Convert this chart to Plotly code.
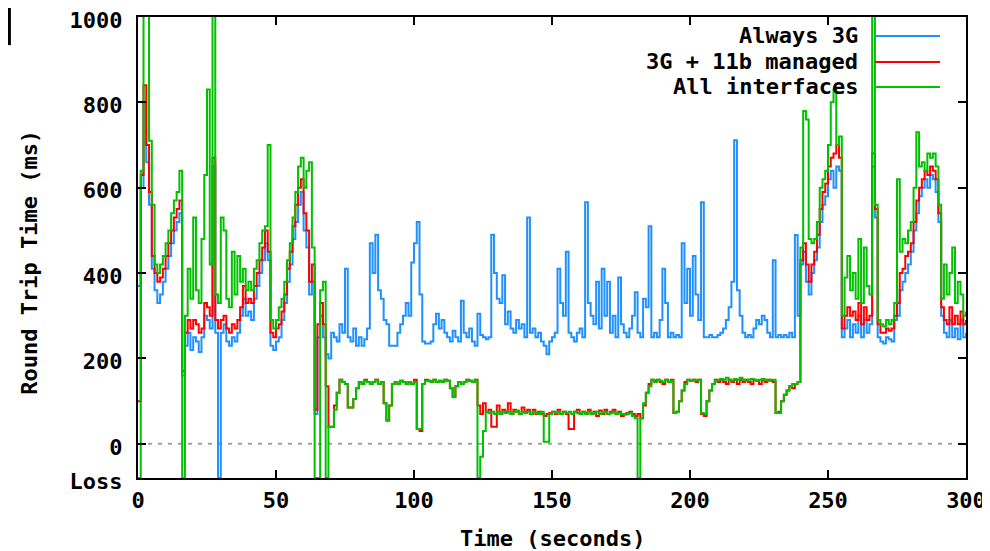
import plotly.graph_objects as go

LOSS = -80

T = list(range(301))

B = [
    370, 600, 800, 660, 560, 410, 360, 330, 350, 380,
    410, 440, 470, 500, 520, 540, 160, 230, 260, 220,
    250, 240, 215, 250, 300, 290, 270, 650, 260, LOSS,
    260, 280, 240, 230, 250, 240, 260, 300, 340, 300,
    310, 290, 340, 370, 400, 430, 470, 430, 230, 220,
    240, 250, 290, 330, 380, 420, 480, 520, 560, 590,
    500, 460, 350, 380, 70, 250, 300, 250, 210, 200,
    260, 250, 240, 280, 260, 410, 250, 240, 270, 230,
    250, 230, 245, 270, 470, 400, 490, 360, 340, 290,
    280, 230, 230, 230, 260, 280, 300, 330, 300, 425,
    470, 520, 350, 240, 235, 235, 240, 280, 305, 270,
    290, 260, 250, 240, 265, 250, 240, 335, 260, 250,
    270, 240, 230, 305, 255, 250, 245, 250, 490, 400,
    340, 330, 395, 280, 310, 270, 260, 290, 270, 280,
    250, 530, 260, 270, 250, 260, 240, 230, 210, 240,
    250, 260, 410, 330, 300, 450, 260, 250, 240, 260,
    270, 250, 566, 330, 300, 280, 380, 270, 410, 300,
    380, 260, 300, 250, 390, 280, 260, 250, 270, 300,
    355, 260, 250, 340, 320, 510, 250, 260, 250, 290,
    410, 330, 250, 260, 250, 255, 250, 470, 330, 410,
    300, 440, 350, 290, 566, 250, 250, 255, 250, 250,
    255, 260, 270, 290, 320, 380, 711, 360, 300, 260,
    250, 255, 250, 270, 290, 280, 300, 290, 260, 250,
    430, 250, 255, 250, 255, 250, 260, 250, 489, 300,
    420, 450, 380, 350, 400, 430, 460, 520, 560, 580,
    620, 640, 600, 650, 640, 250, 270, 290, 250, 280,
    260, 300, 250, 290, 260, 280, 650, 530, 250, 240,
    235, 250, 245, 240, 290, 300, 360, 380, 400, 420,
    450, 500, 540, 580, 600, 620, 600, 630, 620, 590,
    520, 300, 260, 250, 290, 250, 270, 245, 290, 250,
    260,
]

R = [
    100, 630, 840, 700, 590, 440, 400, 380, 390, 410,
    440, 470, 500, 530, 550, 570, 170, 260, 290, 270,
    290, 280, 260, 270, 330, 320, 300, 670, 290, 270,
    290, 300, 270, 260, 280, 270, 290, 320, 370, 330,
    340, 330, 370, 400, 430, 460, 500, 450, 260, 250,
    270, 280, 310, 350, 410, 450, 510, 560, 600, 620,
    540, 500, 380, 420, 80, 280, 330, 280, 135, 40,
    40, 90, 120, 150, 145, 140, 85, 85, 105, 130,
    145, 140, 150, 145, 140, 145, 150, 140, 145, 95,
    55, 90, 140, 145, 140, 148, 145, 140, 145, 140,
    150, 35, 30, 140, 150, 148, 145, 150, 145, 148,
    145, 150, 148, 130, 110, 135, 145, 140, 145, 150,
    148, 145, 150, 90, 70, 95, 75, 80, 40, 40,
    90, 70, 80, 75, 95, 70, 80, 75, 70, 85,
    75, 80, 70, 80, 70, 75, 70, 65, 70, 72,
    75, 70, 80, 70, 75, 70, 35, 35, 75, 80,
    70, 75, 72, 80, 70, 75, 65, 78, 70, 80,
    70, 75, 80, 70, 75, 65, 70, 72, 75, 70,
    65, 70, 60, 90, 120, 140, 150, 148, 150, 145,
    140, 150, 145, 150, 72, 75, 100, 125, 145, 150,
    148, 150, 145, 150, 70, 65, 100, 125, 140, 150,
    145, 150, 145, 140, 150, 145, 150, 140, 150, 145,
    150, 145, 140, 150, 148, 140, 150, 145, 150, 148,
    145, 72, 75, 100, 115, 125, 135, 130, 140, 145,
    430, 470, 420, 380, 420, 450, 490, 550, 590, 610,
    650, 670, 680, 700, 670, 270, 300, 320, 300, 310,
    290, 330, 280, 320, 290, 300, 680, 550, 280, 260,
    260, 270, 265, 270, 300, 330, 400, 410, 440, 450,
    470, 520, 570, 600, 620, 640, 630, 650, 640, 620,
    540, 320, 290, 280, 320, 280, 300, 280, 310, 280,
    290,
]

G = [
    LOSS, 640, 1050, 1050, 710, 560, 420, 400, 420, 440,
    470, 500, 540, 570, 590, 640, LOSS, 300, 410, 340,
    530, 360, 330, 480, 630, 830, 420, 1050, 350, 330,
    530, 500, 340, 320, 450, 350, 440, 380, 410, 360,
    380, 360, 410, 430, 470, 500, 510, 700, 290, 270,
    290, 320, 340, 380, 430, 470, 530, 590, 650, 670,
    600, 640, 660, 460, LOSS, LOSS, 360, 380, LOSS, 40,
    40, 80, 120, 150, 145, 140, 85, 85, 105, 130,
    145, 140, 148, 145, 140, 145, 150, 140, 145, 95,
    55, 90, 140, 145, 140, 148, 145, 140, 145, 140,
    145, 35, 35, 140, 148, 148, 145, 150, 145, 148,
    145, 150, 148, 130, 110, 135, 145, 140, 145, 150,
    148, 145, 150, LOSS, -30, 30, 75, 72, 75, 70,
    75, 70, 75, 72, 75, 70, 75, 78, 70, 75,
    72, 75, 70, 75, 72, 70, 75, 5, 5, 70,
    75, 72, 75, 70, 75, 72, 75, 70, 75, 72,
    70, 75, 70, 75, 70, 72, 75, 70, 72, 75,
    70, 72, 75, 70, 72, 70, 68, 70, 72, 65,
    60, LOSS, 60, 95, 120, 135, 150, 145, 150, 148,
    145, 150, 145, 148, 72, 75, 100, 125, 140, 150,
    148, 150, 148, 150, 72, 70, 100, 125, 140, 148,
    150, 152, 150, 155, 150, 148, 152, 150, 155, 150,
    148, 150, 152, 150, 148, 150, 152, 150, 148, 150,
    150, 72, 72, 100, 115, 125, 135, 140, 140, 145,
    460, 780, 760, 480, 470, 480, 520, 600, 620, 640,
    700, 800, 830, 700, 720, 300, 390, 440, 360, 400,
    340, 480, 330, 460, 370, 350, 1050, 560, 290, 280,
    275, 290, 280, 290, 330, 620, 450, 480, 470, 500,
    520, 600, 730, 650, 660, 640, 680, 670, 680, 650,
    560, 340, 420, 350, 400, 460, 330, 380, 350, 300,
    310,
]

SERIES_NAMES = ["Always 3G", "3G + 11b managed", "All interfaces"]
SERIES_COLORS = ["#1E90FF", "#FF0000", "#00C000"]

Y_TICK_VALS = [LOSS, 0, 200, 400, 600, 800, 1000]
Y_TICK_TEXT = ["Loss", "0", "200", "400", "600", "800", "1000"]
X_TICK_VALS = [0, 50, 100, 150, 200, 250, 300]

X_TITLE = "Time (seconds)"
Y_TITLE = "Round Trip Time (ms)"

FONT = dict(family="DejaVu Sans Mono", size=22, color="black", weight="bold")

fig = go.Figure()
for name, ys, col in zip(SERIES_NAMES, [B, R, G], SERIES_COLORS):
    fig.add_trace(go.Scatter(
        x=T, y=ys, mode="lines", name=name, showlegend=False,
        line=dict(color=col, width=2, shape="hv"),
    ))

# zero reference line
fig.add_shape(type="line", xref="x", yref="y", x0=0, x1=300, y0=0, y1=0,
              line=dict(color="#A0A0A0", width=2, dash="4px,6px"), layer="below")

# gnuplot-style key: right-aligned text, sample line to the right
key_y = [0.9588, 0.9024, 0.8482]
for name, col, yy in zip(SERIES_NAMES, SERIES_COLORS, key_y):
    fig.add_annotation(x=0.872, y=yy, xref="paper", yref="paper", text=name,
                       showarrow=False, xanchor="right", yanchor="middle", font=FONT)
    fig.add_shape(type="line", xref="paper", yref="paper", x0=0.890, x1=0.9686,
                  y0=yy, y1=yy, line=dict(color=col, width=2))

# axis titles as annotations (pixel-placed like the gnuplot output)
fig.add_annotation(x=0.5, y=-0.131, xref="paper", yref="paper", text=X_TITLE,
                   showarrow=False, xanchor="center", yanchor="middle", font=FONT)
fig.add_annotation(x=-0.131, y=0.468, xref="paper", yref="paper", text=Y_TITLE,
                   showarrow=False, xanchor="center", yanchor="middle", textangle=-90,
                   font=FONT)

# small black bar at the top-left corner of the image
fig.add_shape(type="rect", xref="paper", yref="paper", x0=-0.157, x1=-0.1535,
              y0=0.939, y1=1.02, fillcolor="black", line=dict(width=0))

# page body has an 8px margin, so the canvas is 8px smaller and margins shifted
fig.update_layout(
    width=982, height=543,
    margin=dict(l=130, r=24, t=9, b=73, autoexpand=False),
    paper_bgcolor="white", plot_bgcolor="white",
    font=FONT,
)
fig.update_xaxes(
    range=[0, 300], tickvals=X_TICK_VALS, ticks="inside", ticklen=8, tickwidth=2,
    tickcolor="black", showline=True, linewidth=2, linecolor="black", mirror="ticks",
    showgrid=False, zeroline=False, tickfont=FONT, ticklabelstandoff=2,
    automargin=False, ticklabeloverflow="allow",
)
fig.update_yaxes(
    range=[LOSS, 1000], tickvals=Y_TICK_VALS, ticktext=Y_TICK_TEXT, ticks="inside",
    ticklen=8, tickwidth=2, tickcolor="black", showline=True, linewidth=2,
    linecolor="black", mirror="ticks", showgrid=False, zeroline=False, tickfont=FONT,
    ticklabelstandoff=9, ticklabelshift=3, automargin=False, ticklabeloverflow="allow",
)

fig.write_html("out.html")
